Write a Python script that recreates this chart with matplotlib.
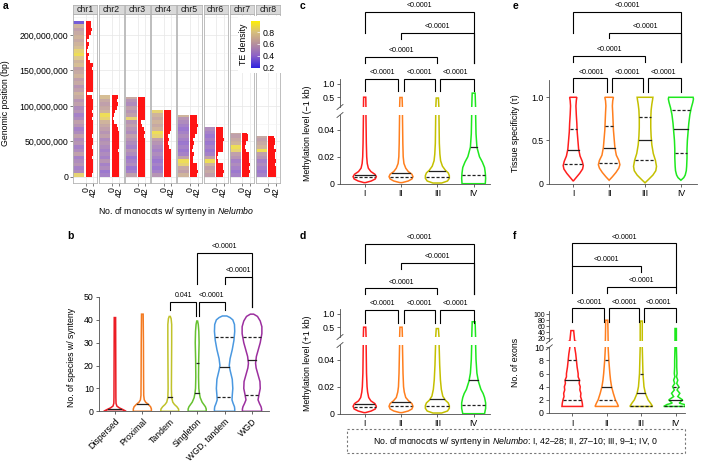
import numpy as np
import matplotlib
matplotlib.use('Agg')
import matplotlib.pyplot as plt
from matplotlib.colors import LinearSegmentedColormap, Normalize
from matplotlib.cm import ScalarMappable
from matplotlib.patches import Rectangle
from matplotlib.lines import Line2D
from matplotlib.ticker import FuncFormatter

plt.rcParams['font.family'] = ['Liberation Sans', 'DejaVu Sans']
plt.rcParams['mathtext.fontset'] = 'custom'
plt.rcParams['mathtext.rm'] = 'Liberation Sans'
plt.rcParams['mathtext.it'] = 'Liberation Sans:italic'

FS = 6.3
AX_COL = '#4d4d4d'

# ---------------- panel a data (5 Mb bins, bottom -> top) ----------------
chroms = ['chr1', 'chr2', 'chr3', 'chr4', 'chr5', 'chr6', 'chr7', 'chr8']
chrom_len_mb = [219.5, 115, 112, 94, 87, 70, 62, 58]
bin_mb = 5

te_chr1 = [0.85, 0.5, 0.45, 0.55, 0.5, 0.45, 0.6, 0.5, 0.45, 0.55,
           0.5, 0.6, 0.5, 0.45, 0.55, 0.6, 0.5, 0.45, 0.55, 0.5,
           0.6, 0.55, 0.65, 0.7, 0.6, 0.55, 0.65, 0.6, 0.7, 0.65,
           0.6, 0.75, 0.7, 0.8, 0.9, 0.85, 0.75, 0.7, 0.65, 0.7,
           0.65, 0.6, 0.7, 0.3]
te_chr2 = [0.45, 0.4, 0.5, 0.45, 0.55, 0.45, 0.5, 0.45, 0.5, 0.55, 0.5, 0.6,
           0.55, 0.6, 0.65, 0.7, 0.85, 0.9, 0.7, 0.65, 0.6, 0.65, 0.75]
te_chr3 = [0.6, 0.45, 0.4, 0.5, 0.45, 0.4, 0.5, 0.55, 0.45, 0.5, 0.55, 0.6,
           0.5, 0.55, 0.6, 0.55, 0.85, 0.6, 0.55, 0.6, 0.5, 0.55, 0.65]
te_chr4 = [0.55, 0.45, 0.4, 0.45, 0.4, 0.45, 0.5, 0.45, 0.5, 0.55, 0.6, 0.85,
           0.9, 0.7, 0.65, 0.7, 0.65, 0.7, 0.85]
te_chr5 = [0.7, 0.6, 0.65, 0.85, 0.9, 0.6, 0.45, 0.4, 0.45, 0.4, 0.45, 0.5,
           0.45, 0.4, 0.45, 0.5, 0.55, 0.7]
te_chr6 = [0.6, 0.65, 0.6, 0.7, 0.9, 0.6, 0.45, 0.4, 0.45, 0.4, 0.45, 0.4, 0.45, 0.5]
te_chr7 = [0.45, 0.4, 0.45, 0.5, 0.45, 0.55, 0.6, 0.85, 0.9, 0.7, 0.65, 0.6, 0.65]
te_chr8 = [0.45, 0.4, 0.45, 0.5, 0.45, 0.55, 0.6, 0.9, 0.7, 0.65, 0.6, 0.65]

syn_chr1 = [38, 41, 42, 39, 40, 36, 42, 41, 38, 40, 42, 37, 41, 39, 42, 40, 38, 41, 36,
            40, 42, 39, 37, 6, 40, 42, 39, 41, 42, 40, 38, 41, 22, 12, 18, 8, 15, 20,
            10, 16, 30, 36, 32, 28]
syn_chr2 = [40, 42, 38, 41, 39, 42, 40, 37, 41, 42, 39, 40, 38, 34, 30, 14, 8, 10, 18,
            32, 36, 30, 34]
syn_chr3 = [40, 42, 41, 39, 42, 40, 38, 41, 42, 39, 40, 37, 41, 36, 24, 20, 38, 40, 41,
            42, 39, 40, 38]
syn_chr4 = [40, 42, 39, 41, 38, 40, 42, 39, 28, 22, 26, 20, 36, 40, 38, 41, 39, 40, 37]
syn_chr5 = [41, 42, 40, 39, 18, 14, 20, 12, 16, 22, 18, 30, 38, 40, 42, 39, 41, 38]
syn_chr6 = [40, 42, 39, 41, 12, 6, 8, 38, 41, 40, 42, 39, 41, 38]
syn_chr7 = [40, 42, 39, 41, 38, 40, 36, 18, 14, 22, 30, 34, 28]
syn_chr8 = [40, 42, 41, 39, 40, 38, 36, 40, 34, 38, 36, 32]

te_all = [te_chr1, te_chr2, te_chr3, te_chr4, te_chr5, te_chr6, te_chr7, te_chr8]
syn_all = [syn_chr1, syn_chr2, syn_chr3, syn_chr4, syn_chr5, syn_chr6, syn_chr7, syn_chr8]

# ---------------- panel b data ----------------
b_cats = ['Dispersed', 'Proximal', 'Tandem', 'Singleton', 'WGD, tandem', 'WGD']
b_colors = ['#ec1c24', '#f47a20', '#c0c22a', '#66c130', '#4a98e0', '#9c2f9f']
b_prof_y = [
    [0, 0.7, 1.5, 2.3, 3.5, 6, 41],
    [0, 1, 2, 3, 4, 5, 7, 15, 30, 42.5],
    [0, 1, 2, 3, 4, 6, 10, 20, 30, 38, 40.5, 41.5],
    [0, 1, 2, 3, 4, 6, 8, 10, 15, 22, 30, 35, 38, 39.5],
    [0, 1, 2, 3.5, 5, 7, 10, 14, 18, 20, 23, 27, 31, 35, 38, 40, 41, 41.7],
    [0, 1, 2, 3.5, 5, 7, 10, 13, 16, 19, 21, 24, 27, 30, 34, 37, 39.5, 41.5, 42.5],
]
b_prof_w = [
    [0.41, 0.3, 0.16, 0.07, 0.04, 0.035, 0.025],
    [0.33, 0.33, 0.3, 0.22, 0.12, 0.07, 0.05, 0.045, 0.04, 0.03],
    [0.33, 0.32, 0.26, 0.17, 0.11, 0.07, 0.06, 0.065, 0.07, 0.07, 0.05, 0.02],
    [0.33, 0.33, 0.3, 0.24, 0.18, 0.11, 0.08, 0.06, 0.05, 0.055, 0.07, 0.06, 0.04, 0.015],
    [0.37, 0.37, 0.36, 0.31, 0.27, 0.28, 0.3, 0.28, 0.2, 0.17, 0.2, 0.28, 0.34, 0.37,
     0.36, 0.3, 0.2, 0.08],
    [0.35, 0.35, 0.33, 0.27, 0.22, 0.25, 0.3, 0.29, 0.22, 0.15, 0.13, 0.16, 0.23, 0.3,
     0.36, 0.36, 0.3, 0.2, 0.06],
]
b_median = [1, 3.2, 6.1, 8.1, 19.3, 22.3]
b_q1 = [None, None, None, None, 6.2, 7.2]
b_q3 = [None, None, None, 21.3, 32.5, 32.5]
b_pairs = [(3, 4, '0.041'), (4, 5, '<0.0001'), (5, 6, '<0.0001'), (4, 6, '<0.0001')]

# ---------------- panels c-f data ----------------
groups = ['I', 'II', 'III', 'IV']
g_colors = ['#ff1e1e', '#ff7f1e', '#c4c000', '#1ee81e']
pairs_cde = [(1, 2, '<0.0001'), (2, 3, '<0.0001'), (3, 4, '<0.0001'),
             (1, 3, '<0.0001'), (2, 4, '<0.0001'), (1, 4, '<0.0001')]
pairs_f = [(1, 2, '<0.0001'), (2, 3, '<0.0001'), (3, 4, '<0.0001'),
           (2, 4, '<0.0001'), (1, 3, '<0.0001'), (1, 4, '<0.0001')]

c_prof_y = [
    [0.0008, 0.002, 0.0035, 0.0052, 0.007, 0.009, 0.0115, 0.015, 0.02, 0.03, 0.05, 0.5],
    [0.0008, 0.002, 0.0035, 0.0052, 0.007, 0.009, 0.0115, 0.015, 0.02, 0.03, 0.05, 0.49],
    [0.0005, 0.002, 0.004, 0.006, 0.008, 0.01, 0.013, 0.017, 0.022, 0.03, 0.05, 0.47],
    [0.0, 0.004, 0.008, 0.012, 0.016, 0.02, 0.027, 0.037, 0.05, 0.65],
]
c_prof_w = [
    [0.02, 0.18, 0.29, 0.32, 0.28, 0.17, 0.1, 0.07, 0.055, 0.045, 0.035, 0.03],
    [0.03, 0.2, 0.3, 0.33, 0.3, 0.2, 0.13, 0.08, 0.06, 0.05, 0.04, 0.03],
    [0.12, 0.28, 0.33, 0.33, 0.3, 0.22, 0.14, 0.09, 0.07, 0.055, 0.045, 0.03],
    [0.32, 0.33, 0.32, 0.3, 0.24, 0.16, 0.09, 0.065, 0.055, 0.04],
]
c_median = [0.0067, 0.0077, 0.0096, 0.0274]
c_q1 = [0.0047, 0.0048, 0.0048, 0.0064]

d_prof_y = [
    [0.0008, 0.002, 0.0035, 0.0055, 0.0075, 0.0095, 0.012, 0.016, 0.02, 0.03, 0.05, 0.5],
    [0.0008, 0.002, 0.0035, 0.0055, 0.0075, 0.0095, 0.012, 0.016, 0.02, 0.03, 0.05, 0.5],
    [0.0005, 0.002, 0.004, 0.006, 0.008, 0.01, 0.013, 0.018, 0.025, 0.036, 0.05, 0.45],
    [0.0, 0.004, 0.008, 0.012, 0.015, 0.018, 0.024, 0.03, 0.04, 0.05, 0.7],
]
d_prof_w = [
    [0.02, 0.18, 0.29, 0.32, 0.28, 0.17, 0.11, 0.08, 0.065, 0.05, 0.04, 0.03],
    [0.03, 0.2, 0.3, 0.33, 0.3, 0.21, 0.13, 0.09, 0.07, 0.055, 0.04, 0.03],
    [0.12, 0.28, 0.33, 0.33, 0.3, 0.22, 0.15, 0.11, 0.085, 0.065, 0.05, 0.03],
    [0.3, 0.33, 0.33, 0.3, 0.26, 0.2, 0.13, 0.09, 0.065, 0.055, 0.04],
]
d_median = [0.0073, 0.0083, 0.0106, 0.025]
d_q1 = [0.0053, 0.0058, 0.0058, 0.0066]

e_prof_y = [
    [0.03, 0.07, 0.12, 0.17, 0.21, 0.26, 0.32, 0.4, 0.5, 0.6, 0.7, 0.8, 0.9, 0.96, 1.0],
    [0.04, 0.08, 0.13, 0.18, 0.22, 0.27, 0.33, 0.42, 0.52, 0.62, 0.72, 0.82, 0.9, 0.96, 1.0],
    [0.01, 0.05, 0.1, 0.15, 0.2, 0.27, 0.35, 0.45, 0.55, 0.65, 0.75, 0.85, 0.92, 0.97, 1.0],
    [0.04, 0.07, 0.1, 0.15, 0.2, 0.3, 0.4, 0.5, 0.6, 0.7, 0.8, 0.88, 0.94, 0.98, 1.0],
]
e_prof_w = [
    [0.0, 0.08, 0.18, 0.26, 0.28, 0.25, 0.19, 0.15, 0.13, 0.11, 0.1, 0.085, 0.075, 0.085, 0.1],
    [0.0, 0.09, 0.19, 0.27, 0.3, 0.27, 0.2, 0.16, 0.14, 0.12, 0.11, 0.1, 0.09, 0.1, 0.12],
    [0.0, 0.1, 0.22, 0.3, 0.32, 0.29, 0.23, 0.19, 0.17, 0.16, 0.16, 0.17, 0.19, 0.21, 0.22],
    [0.0, 0.08, 0.12, 0.15, 0.16, 0.17, 0.17, 0.18, 0.2, 0.22, 0.25, 0.29, 0.33, 0.35, 0.34],
]
e_median = [0.385, 0.41, 0.51, 0.635]
e_q1 = [0.225, 0.245, 0.28, 0.355]
e_q3 = [0.63, 0.67, 0.77, 0.85]

f_prof_y = [
    [1, 1.5, 2, 2.5, 3, 3.5, 4, 4.5, 5, 5.5, 6, 7, 8, 9, 10, 45],
    [1, 1.5, 2, 3, 4, 5, 6, 8, 10, 80],
    [1, 1.5, 2, 3, 4, 6, 8, 10, 77],
    [1, 1.3, 1.5, 2, 2.5, 3, 3.5, 4, 4.5, 5, 5.5, 6, 7, 8, 10, 52],
]
f_prof_w = [
    [0.3, 0.29, 0.27, 0.24, 0.25, 0.22, 0.23, 0.2, 0.21, 0.17, 0.17, 0.14, 0.12, 0.1, 0.07, 0.04],
    [0.34, 0.3, 0.25, 0.19, 0.14, 0.11, 0.09, 0.06, 0.04, 0.03],
    [0.33, 0.27, 0.2, 0.12, 0.08, 0.05, 0.04, 0.03, 0.03],
    [0.35, 0.25, 0.1, 0.2, 0.06, 0.12, 0.04, 0.09, 0.03, 0.06, 0.025, 0.04, 0.03, 0.03, 0.02, 0.02],
]
f_median = [5, 4, 3, 2]
f_q1 = [2, 2, 1, 1]
f_q3 = [8, 8, 6, 4]

# ---------------- layout helpers (pixel boxes) ----------------
W, H = 706, 463
fig = plt.figure(figsize=(W / 100, H / 100), dpi=100)


def box(x0, y0, x1, y1):
    return [x0 / W, 1 - y1 / H, (x1 - x0) / W, (y1 - y0) / H]


def ftext(x, y, s, **kw):
    kw.setdefault('fontsize', FS)
    fig.text(x / W, 1 - y / H, s, **kw)


def fline(xs, ys, **kw):
    fig.add_artist(Line2D([x / W for x in xs], [1 - y / H for y in ys],
                          transform=fig.transFigure, **kw))


def style(ax):
    for s in ['top', 'right']:
        ax.spines[s].set_visible(False)
    for s in ['left', 'bottom']:
        ax.spines[s].set_color(AX_COL)
        ax.spines[s].set_linewidth(0.6)
    ax.tick_params(length=2.5, width=0.6, color=AX_COL, labelsize=FS, pad=1.5)
    ax.set_facecolor('none')


def violin(ax, xc, ys, ws, color, lines=()):
    ys = np.asarray(ys, float)
    ws = np.asarray(ws, float)
    xs = np.concatenate([xc + ws, (xc - ws)[::-1]])
    yy = np.concatenate([ys, ys[::-1]])
    ax.fill(xs, yy, facecolor='white', edgecolor=color, lw=1.1, zorder=2)
    for val, ls in lines:
        if val is None:
            continue
        w = np.interp(val, ys, ws) * 0.95
        ax.plot([xc - w, xc + w], [val, val], color='#222222', lw=0.9,
                ls=ls, dashes=(2.5, 1.5) if ls == '--' else (None, None), zorder=3)


def bracket_axes(x0, x1, top, xlim):
    ax = fig.add_axes(box(x0, top, x1, top + 100))
    ax.set_xlim(xlim)
    ax.set_ylim(100, 0)
    ax.axis('off')
    return ax


def brackets(ax, pairs, layout):
    for (g1, g2, lab), (dx1, dx2, lev, e1, e2) in zip(pairs, layout):
        x1, x2 = g1 + dx1, g2 + dx2
        ax.plot([x1, x1, x2, x2], [e1, lev, lev, e2], color='black', lw=0.8,
                clip_on=False, solid_joinstyle='miter')
        ax.text((g1 + g2) / 2, lev - 6.3, lab, ha='center', va='center', fontsize=5)


# ---------------- panel a ----------------
te_cmap = LinearSegmentedColormap.from_list(
    'te', [(0, '#2b1fe0'), (0.27, '#8e62c6'), (0.53, '#b8929a'), (0.77, '#d8c07a'), (1, '#fff000')])
te_norm = Normalize(0.19, 0.99)

fx0, fw, fstep = 73, 24.4, 26.1
for i, name in enumerate(chroms):
    x0 = fx0 + i * fstep
    ax = fig.add_axes(box(x0, 14, x0 + fw, 183))
    te = np.array(te_all[i])
    n = len(te)
    edges = np.minimum(np.arange(n + 1) * bin_mb, chrom_len_mb[i])
    ax.pcolormesh([-70, -8], edges, te[:, None], cmap=te_cmap, norm=te_norm,
                  alpha=0.85, shading='flat', zorder=2)
    ax.barh(edges[:-1], syn_all[i], height=np.diff(edges), align='edge', left=0,
            color='#ff0000', lw=0, alpha=0.92, zorder=2)
    ax.set_xlim(-72, 66)
    ax.set_ylim(-8.5, 229.6)
    ax.set_xticks([0, 42])
    ax.set_xticklabels(['0', '42'], rotation=90)
    ax.set_yticks([0, 50, 100, 150, 200])
    ax.set_yticks([25, 75, 125, 175, 225], minor=True)
    ax.grid(True, which='major', color='#e6e6e6', lw=0.5)
    ax.grid(True, which='minor', axis='y', color='#f2f2f2', lw=0.4)
    ax.set_axisbelow(True)
    ax.tick_params(axis='x', length=2, width=0.5, color=AX_COL, labelsize=FS, pad=1)
    ax.tick_params(which='minor', length=0)
    if i == 0:
        ax.yaxis.set_major_formatter(FuncFormatter(lambda v, p: f'{int(round(v * 1e6)):,}'))
        ax.tick_params(axis='y', length=2, width=0.5, color=AX_COL, labelsize=FS, pad=1.5)
    else:
        ax.tick_params(axis='y', length=0, labelleft=False)
    for s in ax.spines.values():
        s.set_color('#b3b3b3')
        s.set_linewidth(0.6)
    st = fig.add_axes(box(x0, 5, x0 + fw, 14))
    st.set_facecolor('#d9d9d9')
    st.set_xticks([])
    st.set_yticks([])
    for s in st.spines.values():
        s.set_color('#b3b3b3')
        s.set_linewidth(0.6)
    st.text(0.5, 0.45, name, ha='center', va='center', fontsize=FS,
            color='#1a1a1a', transform=st.transAxes)

bg = fig.add_axes(box(238, 16, 281, 73))
bg.set_facecolor('white')
bg.set_xticks([])
bg.set_yticks([])
for s in bg.spines.values():
    s.set_visible(False)
cax = fig.add_axes(box(251, 20.7, 259.5, 68.3))
cb = fig.colorbar(ScalarMappable(norm=te_norm, cmap=te_cmap), cax=cax)
cb.set_ticks([0.2, 0.4, 0.6, 0.8])
cb.outline.set_visible(False)
cax.tick_params(length=2, width=0.5, color='white', direction='in', labelsize=FS, pad=2)
ftext(244, 44, 'TE density', rotation=90, ha='center', va='center')

ftext(176, 211, r'No. of monocots w/ synteny in $\mathit{Nelumbo}$', ha='center', va='center')
ftext(6, 103, 'Genomic position (bp)', rotation=90, ha='center', va='center')

# ---------------- panel b ----------------
b_xlim = (0.43, 6.62)
axb = fig.add_axes(box(99.3, 297, 269, 411.3))
style(axb)
axb.set_xlim(b_xlim)
axb.set_ylim(0, 50)
for k in range(len(b_cats)):
    violin(axb, k + 1, b_prof_y[k], b_prof_w[k], b_colors[k],
           [(b_q1[k], '--'), (b_median[k], '-'), (b_q3[k], '--')])
axb.set_yticks([0, 10, 20, 30, 40, 50])
axb.set_xticks(range(1, len(b_cats) + 1))
axb.set_xticklabels(b_cats, rotation=45, ha='right', rotation_mode='anchor')
ftext(71, 357, 'No. of species w/ synteny', rotation=90, ha='center', va='center')
b_layout = [(0, -0.05, 71.7, 80, 86), (0.07, 0, 71.7, 86, 80),
            (0, 0, 46.7, 54, 77), (0, 0, 22.7, 54, 77)]
brackets(bracket_axes(99.3, 269, 230, b_xlim), b_pairs, b_layout)


# ---------------- panels c & d (broken y axis) ----------------
def meth_panel(off, prof_y, prof_w, med, q1, layout, ylabel):
    xlim = (0.32, 4.45)
    low = fig.add_axes(box(340, 115 + off, 490, 183.7 + off))
    up = fig.add_axes(box(340, 79 + off, 490, 107 + off))
    style(low)
    style(up)
    low.set_xlim(xlim)
    up.set_xlim(xlim)
    low.set_ylim(0, 0.0509)
    up.set_ylim(0.14, 1.17)
    for k in range(4):
        violin(low, k + 1, prof_y[k], prof_w[k], g_colors[k],
               [(q1[k], '--'), (med[k], '-')])
        violin(up, k + 1, prof_y[k], prof_w[k], g_colors[k])
    low.set_yticks([0, 0.02, 0.04])
    low.set_yticklabels(['0', '0.02', '0.04'])
    low.set_xticks([1, 2, 3, 4])
    low.set_xticklabels(groups)
    up.set_yticks([0.5, 1.0])
    up.set_yticklabels(['0.5', '1.0'])
    up.spines['bottom'].set_visible(False)
    up.set_xticks([])
    for yb in (107 + off, 115 + off):
        fline([337, 343], [yb + 2.5, yb - 2.5], color=AX_COL, lw=0.6)
    ftext(307, 133 + off, ylabel, rotation=90, ha='center', va='center')
    brackets(bracket_axes(340, 490, off, xlim), pairs_cde, layout)


c_layout = [(0, -0.07, 79, 91, 91), (0.07, -0.07, 79, 91, 91), (0.07, 0, 79, 91, 91),
            (0, 0, 57, 63, 63), (0, 0, 33.3, 39, 63), (0, 0, 11.7, 33, 63)]
d_layout = [(0, -0.07, 80, 93, 93), (0.07, -0.07, 80, 93, 93), (0.07, 0, 80, 93, 93),
            (0, 0, 58.3, 64, 64), (0, 0, 33.3, 39.3, 64), (0, 0, 14, 33.3, 64)]
meth_panel(0, c_prof_y, c_prof_w, c_median, c_q1, c_layout, 'Methylation level (\u22121 kb)')
meth_panel(230, d_prof_y, d_prof_w, d_median, d_q1, d_layout, 'Methylation level (+1 kb)')

# ---------------- panel e ----------------
e_xlim = (0.333, 4.44)
axe = fig.add_axes(box(549.3, 80, 696.7, 183.7))
style(axe)
axe.set_xlim(e_xlim)
axe.set_ylim(0, 1.2)
for k in range(4):
    violin(axe, k + 1, e_prof_y[k], e_prof_w[k], g_colors[k],
           [(e_q1[k], '--'), (e_median[k], '-'), (e_q3[k], '--')])
axe.set_yticks([0, 0.5, 1.0])
axe.set_yticklabels(['0', '0.5', '1.0'])
axe.set_xticks([1, 2, 3, 4])
axe.set_xticklabels(groups)
ftext(515, 133, 'Tissue specificity (\u03c4)', rotation=90, ha='center', va='center')
e_layout = [(0, -0.07, 78.3, 91.7, 91.7), (0.07, -0.07, 78.3, 91.7, 91.7), (0.07, 0, 78.3, 91.7, 91.7),
            (0, 0, 56, 61.7, 61.7), (0, 0, 33.3, 38.3, 61.7), (0, 0, 11.7, 33, 61.7)]
brackets(bracket_axes(549.3, 696.7, 0, e_xlim), pairs_cde, e_layout)

# ---------------- panel f (broken y axis) ----------------
f_xlim = (0.333, 4.27)
flow = fig.add_axes(box(549.3, 347.3, 685, 413))
fup = fig.add_axes(box(549.3, 311, 685, 341))
style(flow)
style(fup)
flow.set_xlim(f_xlim)
fup.set_xlim(f_xlim)
flow.set_ylim(0, 10)
fup.set_ylim(10, 111)
for k in range(4):
    violin(flow, k + 1, f_prof_y[k], f_prof_w[k], g_colors[k],
           [(f_q1[k], '--'), (f_median[k], '-'), (f_q3[k], '--')])
    violin(fup, k + 1, f_prof_y[k], f_prof_w[k], g_colors[k])
flow.set_yticks([0, 2, 4, 6, 8, 10])
flow.set_xticks([1, 2, 3, 4])
flow.set_xticklabels(groups)
fup.set_yticks([20, 40, 60, 80, 100])
fup.tick_params(axis='y', labelsize=5.0, pad=1, length=2)
fup.spines['bottom'].set_visible(False)
fup.set_xticks([])
for yb in (341, 347.3):
    fline([546.3, 552.3], [yb + 2.5, yb - 2.5], color=AX_COL, lw=0.6)
ftext(515, 362, 'No. of exons', rotation=90, ha='center', va='center')
f_layout = [(0, -0.07, 78.3, 91.7, 91.7), (0.07, -0.07, 78.3, 91.7, 91.7), (0.07, 0, 78.3, 91.7, 91.7),
            (0, 0, 56.7, 62.7, 62.7), (0, 0, 36, 62.7, 41.7), (0, 0, 13.3, 36, 56.7)]
brackets(bracket_axes(549.3, 685, 230, f_xlim), pairs_f, f_layout)

# ---------------- group legend box ----------------
fig.add_artist(Rectangle((347 / W, 1 - 453.3 / H), (685 - 347) / W, (453.3 - 429) / H,
                         transform=fig.transFigure, fill=False, edgecolor='#777777',
                         lw=0.8, ls=(0, (2, 2))))
ftext(516, 441.5, 'No. of monocots w/ synteny in $\\mathit{Nelumbo}$: I, 42\u201328; II, 27\u201310; '
      'III, 9\u20131; IV, 0', ha='center', va='center')

# ---------------- panel letters ----------------
for lab, (x, y) in zip('abcdef', [(3, 6), (67, 236), (300, 6), (300, 236), (513, 6), (513, 236)]):
    ftext(x, y, lab, fontsize=7.5, fontweight='bold', ha='left', va='center')

fig.savefig('out.png', dpi=100)
